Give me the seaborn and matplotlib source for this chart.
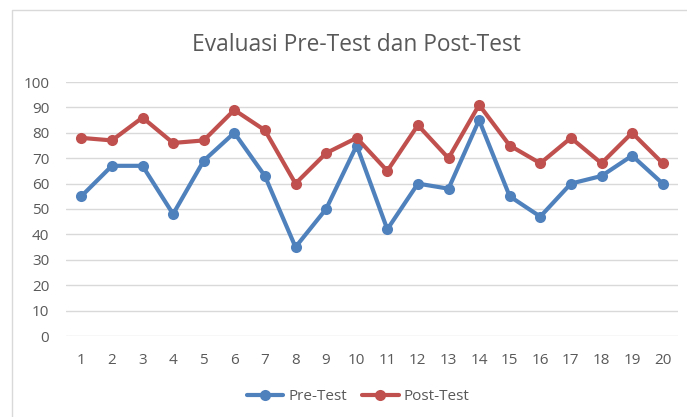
import matplotlib
matplotlib.use("Agg")
import matplotlib.pyplot as plt
import seaborn as sns
import pandas as pd
from matplotlib.lines import Line2D

students = list(range(1, 21))
pre_test = [55, 67, 67, 48, 69, 80, 63, 35, 50, 75, 42, 60, 58, 85, 55, 47, 60, 63, 71, 60]
post_test = [78, 77, 86, 76, 77, 89, 81, 60, 72, 78, 65, 83, 70, 91, 75, 68, 78, 68, 80, 68]
series_names = ["Pre-Test", "Post-Test"]
colors = ["#4F81BD", "#C0504D"]
y_ticks = list(range(0, 101, 10))

df = pd.DataFrame({
    "Siswa": students * 2,
    "Nilai": pre_test + post_test,
    "Tes": [series_names[0]] * len(students) + [series_names[1]] * len(students),
})

sns.set_theme(style="white")
plt.rcParams["font.family"] = ["Open Sans", "DejaVu Sans"]

W, H = 687, 417
fig = plt.figure(figsize=(W / 100, H / 100), dpi=100)
ax = fig.add_axes([66 / W, 1 - 336 / H, (678 - 66) / W, (336 - 82) / H])

sns.lineplot(data=df, x="Siswa", y="Nilai", hue="Tes", palette=colors,
             marker="o", markersize=8, markeredgewidth=0, linewidth=3,
             ax=ax, legend=False)

ax.set_xlim(0.5, 20.5)
ax.set_ylim(0, 100)
ax.set_xticks(students)
ax.set_xticklabels([str(s) for s in students])
ax.set_yticks(y_ticks)
ax.set_yticklabels([str(v) for v in y_ticks])
ax.grid(axis="y", color="#D9D9D9", linewidth=1)
ax.set_axisbelow(True)
for s in ax.spines.values():
    s.set_visible(False)
ax.tick_params(axis="both", length=0, labelsize=11, colors="#595959")
ax.tick_params(axis="y", pad=12)
ax.tick_params(axis="x", pad=12)
ax.set_xlabel("")
ax.set_ylabel("")

fig.text(356 / W, 1 - 45 / H, "Evaluasi Pre-Test dan Post-Test", ha="center", va="center",
         fontsize=16.4, color="#595959")

handles = [Line2D([0], [0], color=c, linewidth=3, marker="o", markersize=8, markeredgewidth=0)
           for c in colors]
fig.legend(handles, series_names, loc="center", bbox_to_anchor=(358 / W, 1 - 397 / H), ncol=2,
           frameon=False, fontsize=11, labelcolor="#595959", handlelength=2.4,
           columnspacing=1.0, handletextpad=0.3)

# chart frame (top and left edges visible)
fig.add_artist(Line2D([12 / W, 12 / W, 1.0], [0.0, 1 - 10 / H, 1 - 10 / H],
                      transform=fig.transFigure, color="#D9D9D9", linewidth=1))

fig.savefig("out.png", dpi=100)
